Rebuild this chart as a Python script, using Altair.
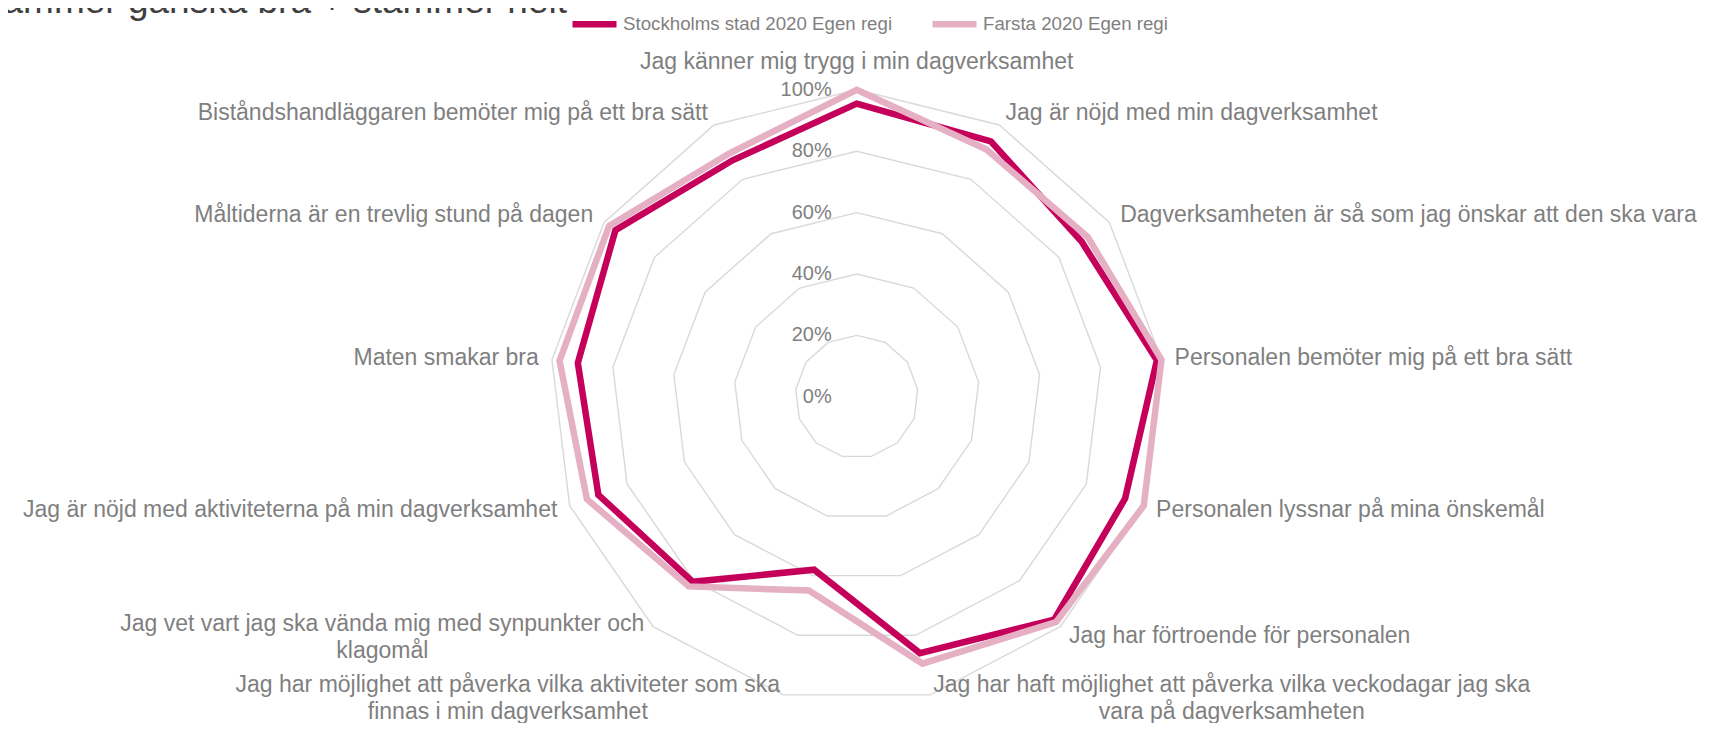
import math
import altair as alt
import pandas as pd

# ---------------- data ----------------
categories = [
    "Jag känner mig trygg i min dagverksamhet",
    "Jag är nöjd med min dagverksamhet",
    "Dagverksamheten är så som jag önskar att den ska vara",
    "Personalen bemöter mig på ett bra sätt",
    "Personalen lyssnar på mina önskemål",
    "Jag har förtroende för personalen",
    "Jag har haft möjlighet att påverka vilka veckodagar jag ska\nvara på dagverksamheten",
    "Jag har möjlighet att påverka vilka aktiviteter som ska\nfinnas i min dagverksamhet",
    "Jag vet vart jag ska vända mig med synpunkter och\nklagomål",
    "Jag är nöjd med aktiviteterna på min dagverksamhet",
    "Maten smakar bra",
    "Måltiderna är en trevlig stund på dagen",
    "Biståndshandläggaren bemöter mig på ett bra sätt",
]
series_names = ["Stockholms stad 2020 Egen regi", "Farsta 2020 Egen regi"]
stockholm = [95.5, 94, 89, 98.5, 93.5, 97, 86, 58, 80.5, 90, 91.5, 95.5, 87]
farsta = [100, 91, 91.5, 100, 100, 98, 89.5, 65, 82.5, 94, 97.5, 98, 89.5]
grid_levels = [20, 40, 60, 80, 100]
tick_values = [0, 20, 40, 60, 80, 100]
tick_labels = ["0%", "20%", "40%", "60%", "80%", "100%"]
series_colors = ["#C5005B", "#E5B0C3"]
title_text = "Andel som svarat stämmer ganska bra + stämmer helt"

# ---------------- layout ----------------
W, H = 1693, 715
CX, CY = 848.7, 388.8      # centre of the radar (px)
RPX = 307.0                # radius of 100 % (px)
U = RPX / 100.0            # px per percent
LABEL_R = 104.3            # label anchor radius (percent units)
FONT = "Liberation Sans, Arial, sans-serif"
GREY = "#7f7f7f"
LABEL_FS = 23.0
LINE_H = 27

x_dom = [-CX / U, (W - CX) / U]
y_dom = [-(H - CY) / U, CY / U]
xs = alt.Scale(domain=x_dom, range=[0, W], nice=False, zero=False)
ys = alt.Scale(domain=y_dom, range=[H, 0], nice=False, zero=False)

n = len(categories)


def pt(v, i):
    th = 2 * math.pi * i / n
    return v * math.sin(th), v * math.cos(th)


CHAR_W = {" ": 278, "a": 556, "b": 556, "c": 500, "d": 556, "e": 556, "f": 278,
          "g": 556, "h": 556, "i": 222, "j": 222, "k": 500, "l": 222, "m": 833,
          "n": 556, "o": 556, "p": 556, "r": 333, "s": 500, "t": 278, "u": 556,
          "v": 500, "y": 500, "å": 556, "ä": 556, "ö": 556, "J": 500}


def text_w(s, fs):
    return sum(CHAR_W.get(c, 556) for c in s) / 1000.0 * fs


# grid polygons
grid_rows = []
for lv in grid_levels:
    for i in range(n):
        x, y = pt(lv, i)
        grid_rows.append({"ring": lv, "idx": i, "x": x, "y": y})
grid_df = pd.DataFrame(grid_rows)

# series
ser_rows = []
for name, vals in zip(series_names, [stockholm, farsta]):
    for i, v in enumerate(vals):
        x, y = pt(v, i)
        ser_rows.append({"series": name, "idx": i, "x": x, "y": y, "value": v})
ser_df = pd.DataFrame(ser_rows)

# tick labels
tick_df = pd.DataFrame({"label": tick_labels, "x": [0.0] * len(tick_values),
                        "y": tick_values})

# category labels
top_rows, left_rows, right_rows, multi_side, multi_bottom = [], [], [], [], []
for i, lab in enumerate(categories):
    ax, ay = pt(LABEL_R, i)
    th = 360.0 * i / n
    if i == 0:
        top_rows.append({"label": lab, "x": ax, "y": ay})
    elif "\n" in lab:
        w = max(text_w(s, LABEL_FS) for s in lab.split("\n")) / U
        cx = ax + w / 2 if th < 180 else ax - w / 2
        row = {"label": lab, "x": cx, "y": ay}
        if 150 < th < 210:
            multi_bottom.append(row)
        else:
            multi_side.append(row)
    elif th < 180:
        left_rows.append({"label": lab, "x": ax, "y": ay})
    else:
        right_rows.append({"label": lab, "x": ax, "y": ay})

title_df = pd.DataFrame({"label": [title_text]})

X = lambda: alt.X("x:Q", scale=xs, axis=None)
Y = lambda: alt.Y("y:Q", scale=ys, axis=None)

grid = alt.Chart(grid_df).mark_line(
    interpolate="linear-closed", color="#d9d9d9", strokeWidth=1.4
).encode(x=X(), y=Y(), detail="ring:N", order="idx:Q")

color = alt.Color(
    "series:N",
    scale=alt.Scale(domain=series_names, range=series_colors),
    legend=alt.Legend(
        orient="none", legendX=561, legendY=-9.5, direction="horizontal", title=None,
        symbolType="stroke", symbolSize=44 * 44, symbolStrokeWidth=6.5,
        labelFontSize=18.7, labelColor=GREY, labelFont=FONT, labelOffset=3,
        columnPadding=26, padding=0, labelLimit=500,
    ),
)


def series_layer(name):
    return alt.Chart(ser_df).transform_filter(
        alt.datum.series == name
    ).mark_line(interpolate="linear-closed", strokeWidth=6.5, strokeJoin="miter").encode(
        x=X(), y=Y(), color=color, order="idx:Q"
    )


ticks = alt.Chart(tick_df).mark_text(
    align="right", baseline="middle", dx=-25, fontSize=20, color=GREY, font=FONT
).encode(x=X(), y=Y(), text="label:N")


def label_layer(rows, **kw):
    return alt.Chart(pd.DataFrame(rows)).mark_text(
        fontSize=LABEL_FS, color=GREY, font=FONT, lineBreak="\n", lineHeight=LINE_H, **kw
    ).encode(x=X(), y=Y(), text="label:N")


labels = [
    label_layer(top_rows, align="center", baseline="alphabetic", dy=-8),
    label_layer(left_rows, align="left", baseline="middle"),
    label_layer(right_rows, align="right", baseline="middle"),
    label_layer(multi_side, align="center", baseline="middle", dy=-12.5),
    label_layer(multi_bottom, align="center", baseline="middle", dy=-23),
]

title = alt.Chart(title_df).mark_text(
    align="right", baseline="alphabetic", fontSize=37, color="#404040", font=FONT
).encode(x=alt.value(559), y=alt.value(5), text="label:N")

chart = alt.layer(
    grid, series_layer(series_names[0]), series_layer(series_names[1]), ticks,
    *labels, title
).properties(
    width=W, height=H, autosize=alt.AutoSizeParams(type="none"), padding=0,
    background="white"
).configure_view(stroke=None)

chart.save("out.html", embed_options={"renderer": "svg", "actions": False})
